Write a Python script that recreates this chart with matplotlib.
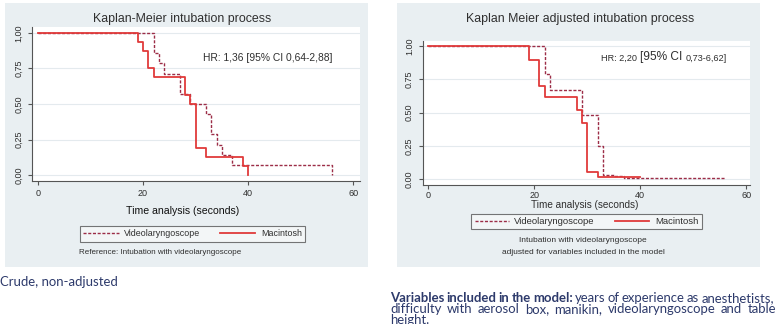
import matplotlib
matplotlib.use("Agg")
import matplotlib.pyplot as plt
from matplotlib import font_manager
from matplotlib.patches import Rectangle
from matplotlib.lines import Line2D
from matplotlib.text import Annotation

plt.rcParams["font.family"] = ["Liberation Sans", "DejaVu Sans"]

# %% data
# crude Kaplan-Meier (left)
crude_mac_t = [0, 19, 20, 21, 22, 28, 29, 30, 32, 39, 40]
crude_mac_s = [1.0, 0.9375, 0.875, 0.75, 0.6875, 0.5625, 0.5, 0.1875, 0.125, 0.0625, 0.0]
crude_vid_t = [0, 22, 23, 24, 27, 29, 32, 33, 34, 35, 37, 56]
crude_vid_s = [1.0, 0.857, 0.786, 0.714, 0.571, 0.5, 0.429, 0.286, 0.214, 0.143, 0.071, 0.0]

# adjusted Kaplan-Meier (right)
adj_mac_t = [0, 19, 21, 22, 28, 29, 30, 32, 40]
adj_mac_s = [1.0, 0.90, 0.70, 0.615, 0.52, 0.425, 0.055, 0.012, 0.012]
adj_vid_t = [0, 22, 23, 29, 32, 33, 35, 37, 56]
adj_vid_s = [1.0, 0.79, 0.67, 0.485, 0.25, 0.03, 0.02, 0.006, 0.006]

xticks = [0, 20, 40, 60]
yticks = [0.0, 0.25, 0.5, 0.75, 1.0]
ylabels_left = ["0,00", "0,25", "0,50", "0,75", "1,00"]
ylabels_right = ["0.00", "0.25", "0.50", "0.75", "1.00"]

caption_left = "Crude, non-adjusted"
caption_bold = "Variables included in the model:"
caption_lines = ["years of experience as anesthetists,",
                 "difficulty with aerosol box, manikin, videolaryngoscope and table",
                 "height."]

RED = "#e03a3a"
DARK = "#9c2d47"
BG = "#e9eff2"
TXT = "#2f2f2f"
CAP = "#2d3a6b"


def pick_font(names):
    for n in names:
        try:
            font_manager.findfont(n, fallback_to_default=False)
            return n
        except Exception:
            pass
    return "DejaVu Sans"


cap_font = pick_font(["Lato", "Open Sans", "Liberation Sans"])

W, H = 780, 324
fig = plt.figure(figsize=(W / 100, H / 100), dpi=100)
fig.patch.set_facecolor("white")
renderer = fig.canvas.get_renderer()

# caption size: natural width of the second caption line ~372 px
probe = fig.text(0, 0, caption_lines[1], fontsize=10, family=cap_font)
cap_size = 10 * 372 / probe.get_window_extent(renderer).width
probe.remove()


def px(x0, y0, x1, y1):
    # pixel box (top-left origin) -> figure fraction rect
    return [x0 / W, 1 - y1 / H, (x1 - x0) / W, (y1 - y0) / H]


# gray Stata panels
for x0, x1 in [(5, 368), (397, 760)]:
    fig.patches.append(Rectangle((x0 / W, 1 - 267 / H), (x1 - x0) / W, 264 / H,
                                 transform=fig.transFigure, facecolor=BG,
                                 edgecolor="none", zorder=-10))


def km_axes(rect, mac_t, mac_s, vid_t, vid_s, xlim, ylim, ylabels, xpad):
    ax = fig.add_axes(rect)
    ax.set_facecolor("white")
    ax.step(vid_t, vid_s, where="post", color=DARK, lw=1.0, ls=(0, (2.2, 1.2)), zorder=3)
    ax.step(mac_t, mac_s, where="post", color=RED, lw=1.3, zorder=4)
    ax.set_xlim(*xlim)
    ax.set_ylim(*ylim)
    ax.set_xticks(xticks)
    ax.set_yticks(yticks)
    ax.set_yticklabels(ylabels, rotation=90, va="center")
    for y in yticks:
        ax.axhline(y, color="#e4eaee", lw=0.8, zorder=1)
    for s in ["top", "right"]:
        ax.spines[s].set_visible(False)
    for s in ["left", "bottom"]:
        ax.spines[s].set_color("#555555")
        ax.spines[s].set_linewidth(0.8)
    ax.tick_params(labelsize=6.5, colors="#555555", labelcolor=TXT, length=3, width=0.8)
    ax.tick_params(axis="x", pad=xpad)
    return ax


def chain(prev, s, **kw):
    # text placed right after the previous text, same baseline
    a = Annotation(s, xy=(1, 0), xycoords=prev, va="bottom", ha="left",
                   annotation_clip=False, **kw)
    fig.add_artist(a)
    return a


def justify(words, y, x0, x1):
    # words: list of (text, weight); spread them over x0..x1 like justified text
    texts = [fig.text(0, 1 - y / H, w, ha="left", va="baseline", fontsize=cap_size,
                      color=CAP, family=cap_font, weight=wt) for w, wt in words]
    widths = [t.get_window_extent(renderer).width for t in texts]
    gap = (x1 - x0 - sum(widths)) / (len(words) - 1)
    x = x0
    for t, w in zip(texts, widths):
        t.set_x(x / W)
        x += w + gap


# %% left panel
axL = km_axes(px(32, 27, 360, 181), crude_mac_t, crude_mac_s, crude_vid_t, crude_vid_s,
              (-1.14, 61.3), (-0.042, 1.042), ylabels_left, 3.0)
fig.text(182 / W, 1 - 19 / H, "Kaplan-Meier intubation process", ha="center", va="center",
         fontsize=8.9, color=TXT)
fig.text(203 / W, 1 - 58 / H, "HR: 1,36 [95% CI 0,64-2,88]", ha="left", va="center",
         fontsize=7.4, color=TXT)
fig.text(183 / W, 1 - 211 / H, "Time analysis (seconds)", ha="center", va="center",
         fontsize=7.6, color="#111111")
fig.text(79 / W, 1 - 252 / H, "Reference: Intubation with videolaryngoscope", ha="left",
         va="center", fontsize=5.8, color=TXT)

# %% right panel
axR = km_axes(px(423, 41, 750, 185), adj_mac_t, adj_mac_s, adj_vid_t, adj_vid_s,
              (-0.94, 60.7), (-0.045, 1.04), ylabels_right, 1.2)
fig.text(580 / W, 1 - 19 / H, "Kaplan Meier adjusted intubation process", ha="center",
         va="center", fontsize=8.9, color=TXT)
t1 = fig.text(601 / W, 1 - 63 / H, "HR: 2,20 ", ha="left", va="bottom", fontsize=6.6, color=TXT)
t2 = chain(t1, "[95% CI ", fontsize=8.6, color=TXT)
t3 = chain(t2, "0,73-6,62]", fontsize=6.6, color=TXT)
fig.text(585 / W, 1 - 205.5 / H, "Time analysis (seconds)", ha="center", va="center",
         fontsize=7.2, color=TXT)
fig.text(583 / W, 1 - 240 / H, "Intubation with videolaryngoscope", ha="center", va="center",
         fontsize=6, color=TXT)
fig.text(583 / W, 1 - 252 / H, "adjusted for variables included in the model", ha="center",
         va="center", fontsize=6, color=TXT)

# %% legends
handles = [Line2D([], [], color=DARK, lw=1.0, ls=(0, (2.2, 1.2))),
           Line2D([], [], color=RED, lw=1.3)]
labels = ["Videolaryngoscope", "Macintosh"]
for cx, cy, fs, hl in [((78 + 307) / 2, 234, 6.4, 4.0), ((471 + 702) / 2, 221.5, 6.8, 3.6)]:
    leg = fig.legend(handles, labels, loc="center", bbox_to_anchor=(cx / W, 1 - cy / H),
                     ncol=2, fontsize=fs, frameon=True, fancybox=False, handlelength=hl,
                     handletextpad=0.6, columnspacing=2.2, borderpad=0.35)
    leg.get_frame().set_edgecolor("#555555")
    leg.get_frame().set_linewidth(0.8)
    leg.get_frame().set_facecolor("#f6f8f9")
    for t in leg.get_texts():
        t.set_color(TXT)

# %% captions
fig.text(0, 1 - 286 / H, caption_left, ha="left", va="baseline",
         fontsize=cap_size, color=CAP, family=cap_font)
line1 = [(w, "bold") for w in caption_bold.split()] + \
        [(w, "normal") for w in caption_lines[0].split()]
justify(line1, 302.5, 390, 774)
justify([(w, "normal") for w in caption_lines[1].split()], 313, 390, 776)
fig.text(390 / W, 1 - 323.5 / H, caption_lines[2], ha="left", va="baseline",
         fontsize=cap_size, color=CAP, family=cap_font)

fig.savefig("out.png", dpi=100)
